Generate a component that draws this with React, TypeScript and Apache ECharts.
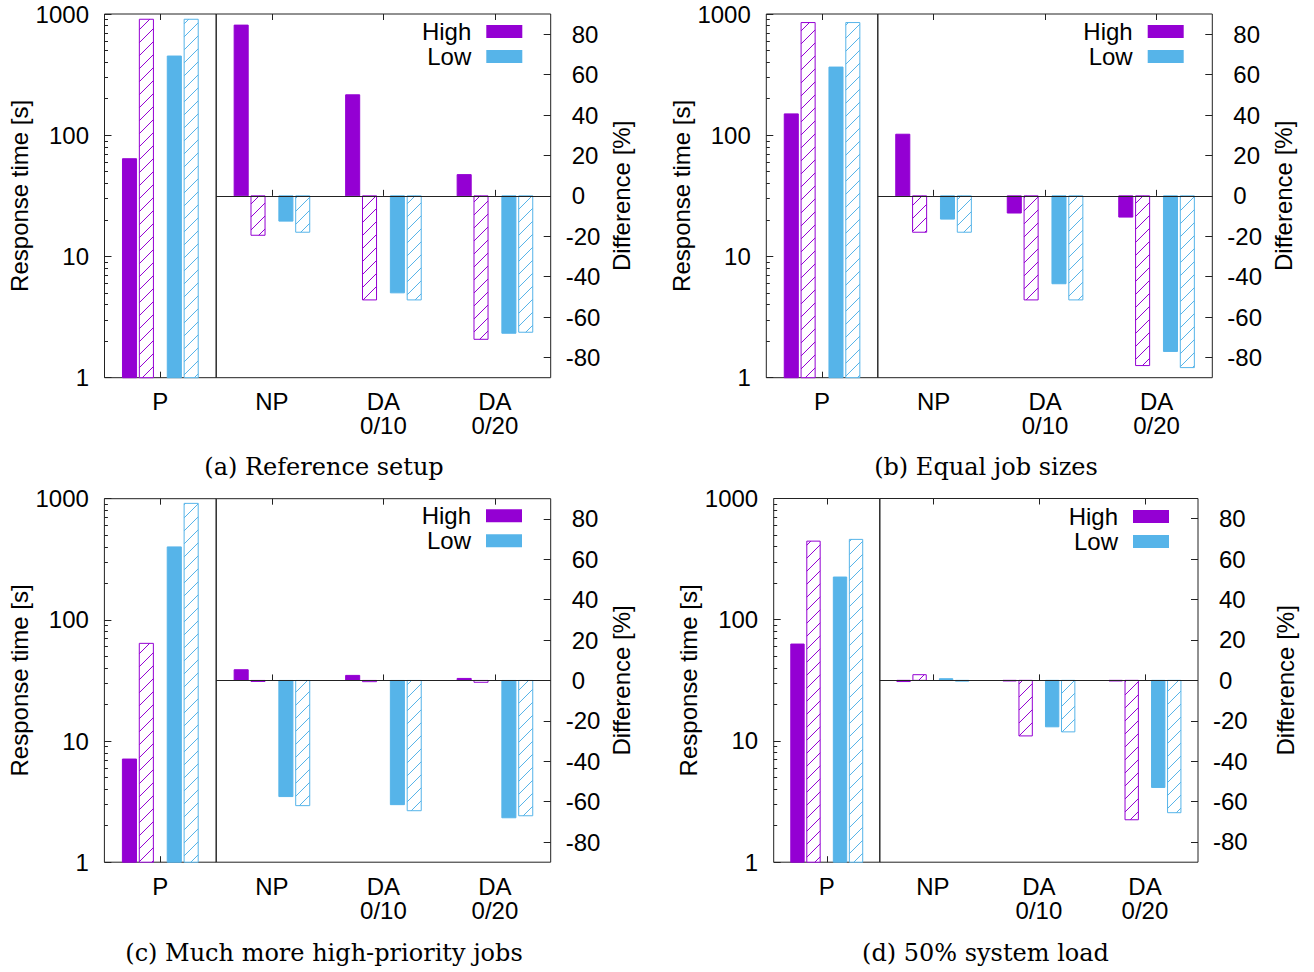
import React, { useEffect, useRef } from 'react';
import * as echarts from 'echarts';

const PURPLE = '#9400d3';
const BLUE = '#56b4e9';
const FRAME = '#222222';
const SANS = "'Liberation Sans', Arial, Helvetica, sans-serif";
const SERIF = "'DejaVu Serif', serif";
const FS = 24;

// ---------- categories & ticks ----------
const timeCategories = ['P'];
const diffCategories = ['NP', 'DA\n0/10', 'DA\n0/20'];
const timeTickValues = [1, 10, 100, 1000];
const timeMinorTickValues = [2, 3, 4, 5, 6, 7, 8, 9, 20, 30, 40, 50, 60, 70, 80, 90, 200, 300, 400, 500, 600, 700, 800, 900];
const diffTickValues = [-80, -60, -40, -20, 0, 20, 40, 60, 80];
const seriesNames = ['High', 'Low'];
const captions = [
  '(a) Reference setup',
  '(b) Equal job sizes',
  '(c) Much more high-priority jobs',
  '(d) 50% system load',
];

// ---------- data: time values are [solid, hatched] ----------
// (a) Reference setup
const aHighTime = [64, 905];
const aLowTime = [450, 905];
const aHighDiffSolid = [84.5, 50, 10.5];
const aHighDiffHatched = [-19.5, -51.5, -71];
const aLowDiffSolid = [-12.5, -48, -68];
const aLowDiffHatched = [-18, -51.5, -67.5];

// (b) Equal job sizes
const bHighTime = [150, 850];
const bLowTime = [365, 850];
const bHighDiffSolid = [30.5, -8.5, -10.5];
const bHighDiffHatched = [-18, -51.5, -84];
const bLowDiffSolid = [-11.5, -43.5, -77];
const bLowDiffHatched = [-18, -51.5, -85];

// (c) Much more high-priority jobs
const cHighTime = [7.1, 64];
const cLowTime = [400, 915];
const cHighDiffSolid = [5.3, 2.5, 1];
const cHighDiffHatched = [-0.5, -0.6, -0.9];
const cLowDiffSolid = [-57.5, -61.5, -68];
const cLowDiffHatched = [-62, -64.5, -67];

// (d) 50% system load
const dHighTime = [63, 445];
const dLowTime = [225, 460];
const dHighDiffSolid = [-0.6, -0.3, -0.3];
const dHighDiffHatched = [2.8, -27.5, -69];
const dLowDiffSolid = [0.8, -23, -53];
const dLowDiffHatched = [-0.4, -25.5, -65.5];

const panelData = [
  { highTime: aHighTime, lowTime: aLowTime, highS: aHighDiffSolid, highH: aHighDiffHatched, lowS: aLowDiffSolid, lowH: aLowDiffHatched },
  { highTime: bHighTime, lowTime: bLowTime, highS: bHighDiffSolid, highH: bHighDiffHatched, lowS: bLowDiffSolid, lowH: bLowDiffHatched },
  { highTime: cHighTime, lowTime: cLowTime, highS: cHighDiffSolid, highH: cHighDiffHatched, lowS: cLowDiffSolid, lowH: cLowDiffHatched },
  { highTime: dHighTime, lowTime: dLowTime, highS: dHighDiffSolid, highH: dHighDiffHatched, lowS: dLowDiffSolid, lowH: dLowDiffHatched },
];

// ---------- layout (pixels) ----------
const layouts = [
  { left: 104.5, divider: 216.2, right: 550.7, top: 14, bottom: 377.7, lGap: 70, rGap: 59, capX: 324, capY: 467, legR: 791.7, legT: 19.5 },
  { left: 766.3, divider: 877.8, right: 1212.3, top: 14, bottom: 377.7, lGap: 72, rGap: 59, capX: 986, capY: 467, legR: 130.3, legT: 19.5 },
  { left: 104.4, divider: 216.2, right: 550.7, top: 498.7, bottom: 862.2, lGap: 71, rGap: 59, capX: 324, capY: 952.5, legR: 792, legT: 503.8 },
  { left: 773.7, divider: 879.8, right: 1198, top: 498.5, bottom: 862.2, lGap: 70, rGap: 75, capX: 985.5, capY: 952.5, legR: 145, legT: 504.5 },
];

const BAR_W = 0.126;
const HATCH_P = 13;

function hatchLines(x0: number, x1: number, ya: number, yb: number, color: string) {
  const out: any[] = [];
  if (yb - ya < 2) return out;
  const cStart = Math.ceil((x0 + ya) / HATCH_P) * HATCH_P;
  for (let c = cStart; c <= x1 + yb; c += HATCH_P) {
    const xs = Math.max(x0, c - yb);
    const xe = Math.min(x1, c - ya);
    if (xe - xs > 0.3) {
      out.push({
        type: 'line',
        shape: { x1: xs, y1: c - xs, x2: xe, y2: c - xe },
        style: { stroke: color, lineWidth: 1 },
      });
    }
  }
  return out;
}

function makeRender(color: string, base: number, offsets: number[], nCats: number) {
  return (params: any, api: any) => {
    const cs = params.coordSys;
    const slot = cs.width / nCats;
    const idx = params.dataIndex;
    const basePt = api.coord([idx, base]);
    const cx = basePt[0];
    const yBase = basePt[1];
    const w = slot * BAR_W;
    const children: any[] = [];
    [1, 2].forEach((dim, j) => {
      const v = api.value(dim);
      const yv = api.coord([idx, v])[1];
      const x0 = cx + offsets[j] * slot - w / 2;
      const top = Math.min(yBase, yv);
      const h = Math.abs(yv - yBase);
      if (j === 0) {
        children.push({
          type: 'rect',
          shape: { x: x0, y: top, width: w, height: h },
          style: { fill: color, stroke: color, lineWidth: 1 },
        });
      } else {
        children.push({
          type: 'rect',
          shape: { x: x0, y: top, width: w, height: h },
          style: { fill: '#ffffff', stroke: color, lineWidth: 1 },
        });
        hatchLines(x0, x0 + w, top, top + h, color).forEach((l) => children.push(l));
      }
    });
    return { type: 'group', children };
  };
}

function buildOption() {
  const grid: any[] = [];
  const xAxis: any[] = [];
  const yAxis: any[] = [];
  const series: any[] = [];
  const legend: any[] = [];
  const graphic: any[] = [];

  const catAxis = (gridIndex: number, data: string[], position: string, showLabel: boolean) => ({
    type: 'category',
    gridIndex,
    position,
    data,
    axisLine: { show: false },
    axisTick: { show: true, inside: true, alignWithLabel: true, length: 6, lineStyle: { color: FRAME, width: 1 } },
    axisLabel: showLabel
      ? { show: true, margin: 12, fontSize: FS, fontFamily: SANS, color: '#000', lineHeight: 24, interval: 0 }
      : { show: false },
    splitLine: { show: false },
  });

  layouts.forEach((L, i) => {
    const d = panelData[i];
    const h = L.bottom - L.top;
    const gP = grid.length;
    grid.push({ left: L.left, top: L.top, width: L.divider - L.left, height: h, show: true, borderColor: FRAME, borderWidth: 1, backgroundColor: 'transparent' });
    const gR = grid.length;
    grid.push({ left: L.divider, top: L.top, width: L.right - L.divider, height: h, show: true, borderColor: FRAME, borderWidth: 1, backgroundColor: 'transparent' });

    const xP = xAxis.length;
    xAxis.push(catAxis(gP, timeCategories, 'bottom', true));
    xAxis.push(catAxis(gP, timeCategories, 'top', false));
    const xR = xAxis.length;
    xAxis.push(catAxis(gR, diffCategories, 'bottom', true));
    xAxis.push(catAxis(gR, diffCategories, 'top', false));

    const yP = yAxis.length;
    yAxis.push({
      type: 'log',
      logBase: 10,
      gridIndex: gP,
      position: 'left',
      min: 1,
      max: 1000,
      name: 'Response time [s]',
      nameLocation: 'middle',
      nameGap: L.lGap,
      nameRotate: 90,
      nameTextStyle: { fontSize: FS, fontFamily: SANS, color: '#000' },
      axisLine: { show: false },
      axisTick: { show: true, inside: true, length: 7, customValues: timeTickValues, lineStyle: { color: FRAME, width: 1 } },
      axisLabel: {
        show: true,
        customValues: timeTickValues,
        margin: 15.5,
        fontSize: FS,
        fontFamily: SANS,
        color: '#000',
        formatter: (v: number) => String(Math.round(v)),
      },
      splitLine: { show: false },
    });
    yAxis.push({
      type: 'log',
      logBase: 10,
      gridIndex: gP,
      position: 'left',
      min: 1,
      max: 1000,
      axisLine: { show: false },
      axisTick: { show: true, inside: true, length: 3.5, customValues: timeMinorTickValues, lineStyle: { color: FRAME, width: 1 } },
      axisLabel: { show: false },
      splitLine: { show: false },
    });
    const yR = yAxis.length;
    yAxis.push({
      type: 'value',
      gridIndex: gR,
      position: 'right',
      min: -90,
      max: 90,
      name: 'Difference [%]',
      nameLocation: 'middle',
      nameGap: L.rGap,
      nameRotate: 90,
      nameTextStyle: { fontSize: FS, fontFamily: SANS, color: '#000' },
      axisLine: { show: false },
      axisTick: { show: true, inside: true, length: 7, customValues: diffTickValues, lineStyle: { color: FRAME, width: 1 } },
      axisLabel: {
        show: true,
        customValues: diffTickValues,
        margin: 15,
        align: 'left',
        fontSize: FS,
        fontFamily: SANS,
        color: '#000',
        formatter: (v: number) => (v < 0 ? String(v) : `{p|${v}}`),
        rich: { p: { padding: [0, 0, 0, 6], fontSize: FS, fontFamily: SANS, color: '#000' } },
      },
      splitLine: { show: false },
    });

    // P (response time) bars
    series.push({
      type: 'custom',
      name: seriesNames[0],
      xAxisIndex: xP,
      yAxisIndex: yP,
      itemStyle: { color: PURPLE },
      encode: { x: 0, y: [1, 2] },
      renderItem: makeRender(PURPLE, 1, [-0.276, -0.125], timeCategories.length),
      data: timeCategories.map((c) => [c, d.highTime[0], d.highTime[1]]),
      silent: true,
    });
    series.push({
      type: 'custom',
      name: seriesNames[1],
      xAxisIndex: xP,
      yAxisIndex: yP,
      itemStyle: { color: BLUE },
      encode: { x: 0, y: [1, 2] },
      renderItem: makeRender(BLUE, 1, [0.125, 0.276], timeCategories.length),
      data: timeCategories.map((c) => [c, d.lowTime[0], d.lowTime[1]]),
      silent: true,
    });
    // difference bars
    series.push({
      type: 'custom',
      name: seriesNames[0],
      xAxisIndex: xR,
      yAxisIndex: yR,
      itemStyle: { color: PURPLE },
      encode: { x: 0, y: [1, 2] },
      renderItem: makeRender(PURPLE, 0, [-0.276, -0.125], diffCategories.length),
      data: diffCategories.map((c, k) => [c, d.highS[k], d.highH[k]]),
      silent: true,
    });
    series.push({
      type: 'custom',
      name: seriesNames[1],
      xAxisIndex: xR,
      yAxisIndex: yR,
      itemStyle: { color: BLUE },
      encode: { x: 0, y: [1, 2] },
      renderItem: makeRender(BLUE, 0, [0.125, 0.276], diffCategories.length),
      data: diffCategories.map((c, k) => [c, d.lowS[k], d.lowH[k]]),
      silent: true,
    });
    // zero line
    series.push({
      type: 'line',
      name: 'zero' + i,
      xAxisIndex: xR,
      yAxisIndex: yR,
      data: [],
      silent: true,
      z: 1,
      markLine: {
        silent: true,
        symbol: ['none', 'none'],
        label: { show: false },
        lineStyle: { color: FRAME, width: 1, type: 'solid' },
        emphasis: { disabled: true },
        data: [{ yAxis: 0 }],
      },
    });

    legend.push({
      orient: 'vertical',
      right: L.legR,
      top: L.legT,
      padding: 0,
      itemWidth: 36,
      itemHeight: 13,
      itemGap: 1,
      align: 'right',
      selectedMode: false,
      textStyle: { fontSize: FS, fontFamily: SANS, color: '#000', lineHeight: 24, padding: [0, 10, 0, 0] },
      data: [
        { name: seriesNames[0], icon: 'rect', itemStyle: { color: PURPLE, borderWidth: 0 } },
        { name: seriesNames[1], icon: 'rect', itemStyle: { color: BLUE, borderWidth: 0 } },
      ],
    });

    graphic.push({
      type: 'text',
      x: L.capX,
      y: L.capY,
      style: {
        text: captions[i],
        fontSize: FS,
        fontFamily: SERIF,
        fill: '#000',
        align: 'center',
        verticalAlign: 'middle',
      },
    });
  });

  return {
    animation: false,
    backgroundColor: '#ffffff',
    textStyle: { fontFamily: SANS },
    grid,
    xAxis,
    yAxis,
    series,
    legend,
    graphic,
  };
}

export default function App() {
  const ref = useRef<HTMLDivElement>(null);
  useEffect(() => {
    if (!ref.current) return;
    const chart = echarts.init(ref.current, undefined, { renderer: 'svg' });
    chart.setOption(buildOption() as any);
    return () => {
      chart.dispose();
    };
  }, []);
  return (
    <div
      ref={ref}
      style={{ position: 'fixed', left: 0, top: 0, width: 1314, height: 972, background: '#fff' }}
    />
  );
}
